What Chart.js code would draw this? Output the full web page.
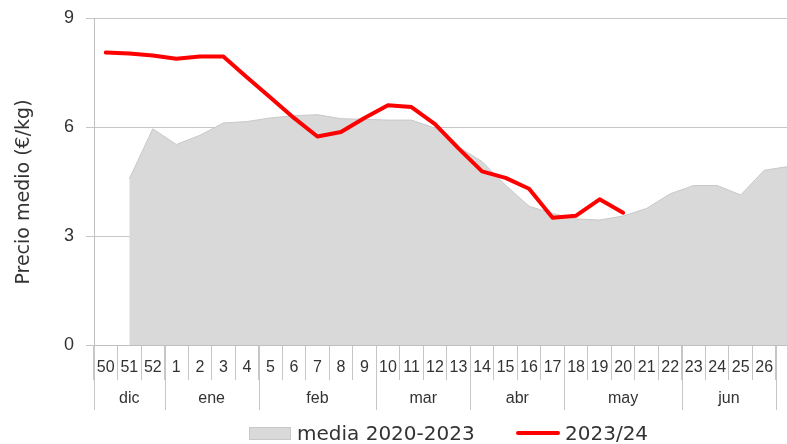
<!DOCTYPE html>
<html><head><meta charset="utf-8">
<script src="https://cdn.jsdelivr.net/npm/chart.js@4.4.1/dist/chart.umd.min.js"></script>
<style>
html,body{margin:0;padding:0;background:#fff;overflow:hidden;}
#wrap{position:relative;width:787px;height:444px;overflow:hidden;}
#c{position:absolute;left:0;top:0;width:830px;height:444px;}
.leg{position:absolute;top:421px;height:24px;display:flex;align-items:center;font-family:"DejaVu Sans",sans-serif;font-size:20px;color:#333;white-space:nowrap;}
</style></head><body>
<div id="wrap"><canvas id="c" width="830" height="444"></canvas>
<div class="leg" style="left:249px"><span style="display:inline-block;width:42px;height:13px;background:#d9d9d9;border:1px solid #c8c8c8;box-sizing:border-box;margin-right:6px"></span>media 2020-2023</div>
<div class="leg" style="left:516px"><span style="display:inline-block;width:44px;height:4px;background:#ff0000;border-radius:2px;margin-right:5px"></span>2023/24</div>
</div>
<script>
// Categories (weeks); last one is the partially visible week beyond 26
const weeks = ['50','51','52','1','2','3','4','5','6','7','8','9','10','11','12','13','14','15','16','17','18','19','20','21','22','23','24','25','26',''];
const months = ['dic','ene','feb','mar','abr','may','jun'];
const monthWeeks = [3,4,5,4,4,5,4];
const media = [null,4.57,5.95,5.52,5.77,6.11,6.15,6.25,6.31,6.34,6.23,6.21,6.19,6.19,5.97,5.45,5.05,4.40,3.82,3.62,3.47,3.44,3.55,3.76,4.16,4.39,4.39,4.13,4.81,4.91];
const serie2324 = [8.05,8.02,7.97,7.88,7.94,7.94,7.37,6.81,6.25,5.74,5.86,6.25,6.60,6.55,6.08,5.41,4.78,4.60,4.30,3.50,3.56,4.01,3.64,null,null,null,null,null,null,null];
const yTicks = [0,3,6,9];
const yTitle = 'Precio medio (€/kg)';
const labelMedia = 'media 2020-2023';
const label2324 = '2023/24';

const extras = {
  id: 'extras',
  afterDraw(chart) {
    const x = chart.scales.x, ctx = chart.ctx, ca = chart.chartArea;
    const half = (x.getPixelForValue(1) - x.getPixelForValue(0)) / 2;
    const top = ca.bottom;
    const bounds = [0];
    let idx = 0;
    monthWeeks.forEach(n => { idx += n; bounds.push(idx); });
    ctx.save();
    ctx.strokeStyle = '#c6c6c6';
    ctx.lineWidth = 1;
    bounds.forEach(b => {
      const px = Math.round(x.getPixelForValue(b) - half) + 0.5;
      ctx.beginPath(); ctx.moveTo(px, top); ctx.lineTo(px, top + 65); ctx.stroke();
    });
    ctx.font = '16px "Liberation Sans"';
    ctx.fillStyle = '#333';
    ctx.textAlign = 'center';
    ctx.textBaseline = 'middle';
    months.forEach((m, i) => {
      const a = x.getPixelForValue(bounds[i]) - half;
      const b = x.getPixelForValue(bounds[i + 1]) - half;
      ctx.fillText(m, (a + b) / 2, top + 54);
    });
    ctx.translate(24, 192);
    ctx.rotate(-Math.PI / 2);
    ctx.font = '19px "DejaVu Sans"';
    ctx.fillText(yTitle, 0, 0);
    ctx.restore();
  }
};

new Chart(document.getElementById('c'), {
  type: 'line',
  data: {
    labels: weeks,
    datasets: [
      { label: label2324, data: serie2324, borderColor: '#ff0000', borderWidth: 4, pointRadius: 0, fill: false,
        tension: 0, borderJoinStyle: 'round', borderCapStyle: 'round', order: 0 },
      { label: labelMedia, data: media, borderColor: '#c8c8c8', borderWidth: 1, backgroundColor: '#d9d9d9',
        fill: 'origin', pointRadius: 0, tension: 0, order: 1 }
    ]
  },
  options: {
    responsive: false,
    animation: false,
    devicePixelRatio: 1,
    layout: { padding: { top: 18, right: 30.5, bottom: 0, left: 0 } },
    plugins: { legend: { display: false }, tooltip: { enabled: false } },
    scales: {
      x: {
        type: 'category',
        offset: true,
        grid: { offset: true, drawOnChartArea: false, drawTicks: true, tickLength: 35, color: '#c6c6c6' },
        border: { color: '#bfbfbf' },
        ticks: { padding: -22, autoSkip: false, maxRotation: 0, minRotation: 0, color: '#333',
                 font: { family: 'Liberation Sans', size: 16 } },
        afterFit(s) { s.height = 99; s.paddingLeft = 0; s.paddingRight = 0; }
      },
      y: {
        min: 0, max: 9,
        afterBuildTicks(s) { s.ticks = yTicks.map(v => ({ value: v })); },
        grid: { color: '#c6c6c6', tickLength: 8 },
        border: { color: '#bfbfbf' },
        ticks: { padding: 12, color: '#333', font: { family: 'Liberation Sans', size: 18 } },
        afterFit(s) { s.width = 94; s.paddingTop = 0; s.paddingBottom = 0; }
      }
    }
  },
  plugins: [extras]
});
</script>
</body></html>
